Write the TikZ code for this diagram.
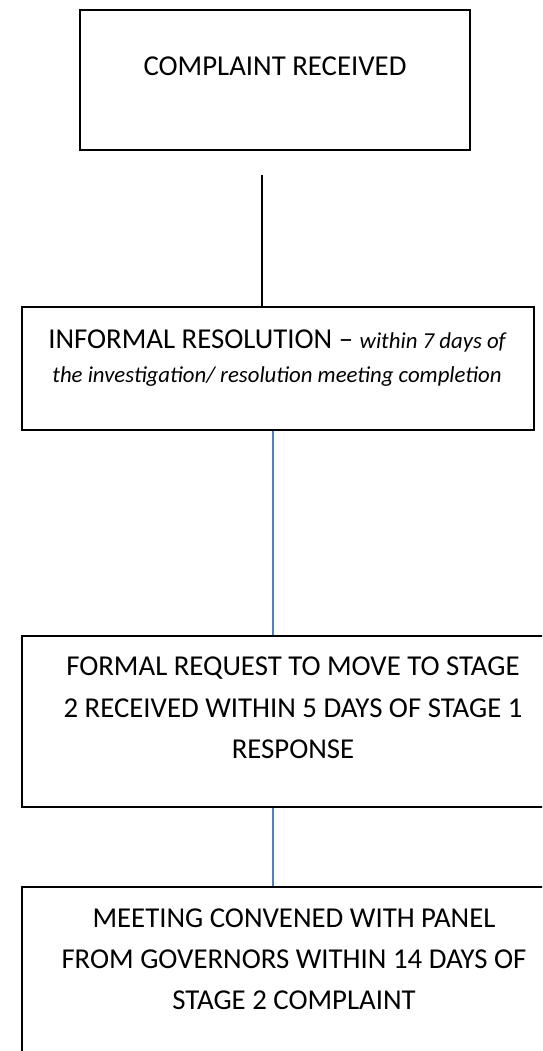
\documentclass[tikz,border=0pt]{standalone}
\usepackage{fontspec}
\setmainfont{Carlito}
\definecolor{linkblue}{RGB}{79,129,189}
\tikzset{
  stagebox/.style={draw, line width=1.6pt, inner sep=0pt},
  stagetext/.style={align=center, inner sep=0pt, anchor=north, font=\fontsize{28.8}{41.5}\selectfont},
  link/.style={draw=linkblue, line width=1.4pt},
  plainlink/.style={draw=black, line width=1.6pt}
}

\begin{document}
\begin{tikzpicture}[x=1pt, y=-1pt]
    \useasboundingbox (0,0) rectangle (542,1051);
    \clip (0,0) rectangle (542,1051);
    % stage boxes
    \node[stagebox, minimum width=390pt, minimum height=140pt] (recv) at (275,80) {};
    \node[stagebox, minimum width=512pt, minimum height=123pt] (inf) at (278,368.5) {};
    \node[stagebox, minimum width=544pt, minimum height=171pt] (formal) at (294,721.5) {};
    \node[stagebox, minimum width=544pt, minimum height=193pt] (panel) at (294,983.5) {};
    % texts
    \node[stagetext, anchor=base] (recvtxt) at (275,76) {COMPLAINT RECEIVED};
    \node[stagetext, font=\fontsize{28.8}{34}\selectfont] (inftxt) at (277,330)
        {INFORMAL RESOLUTION – {\itshape\fontsize{22.8}{34}\selectfont within 7 days of}\\
         {\itshape\fontsize{22.8}{34}\selectfont the investigation/ resolution meeting completion}};
    \node[stagetext] (formaltxt) at (293,657)
        {FORMAL REQUEST TO MOVE TO STAGE\\2 RECEIVED WITHIN 5 DAYS OF STAGE 1\\RESPONSE};
    \node[stagetext, font=\fontsize{28.8}{41}\selectfont] (paneltxt) at (294,908.5)
        {MEETING CONVENED WITH PANEL\\FROM GOVERNORS WITHIN 14 DAYS OF\\STAGE 2 COMPLAINT};
    % connectors
    \coordinate (top1) at (262,175);
    \coordinate (mid2) at (273,0);
    \draw[plainlink] (top1) -- (top1 |- inf.north);
    \draw[link] (inf.south -| mid2) -- (formal.north -| mid2);
    \draw[link] (formal.south -| mid2) -- (panel.north -| mid2);
\end{tikzpicture}
\end{document}
